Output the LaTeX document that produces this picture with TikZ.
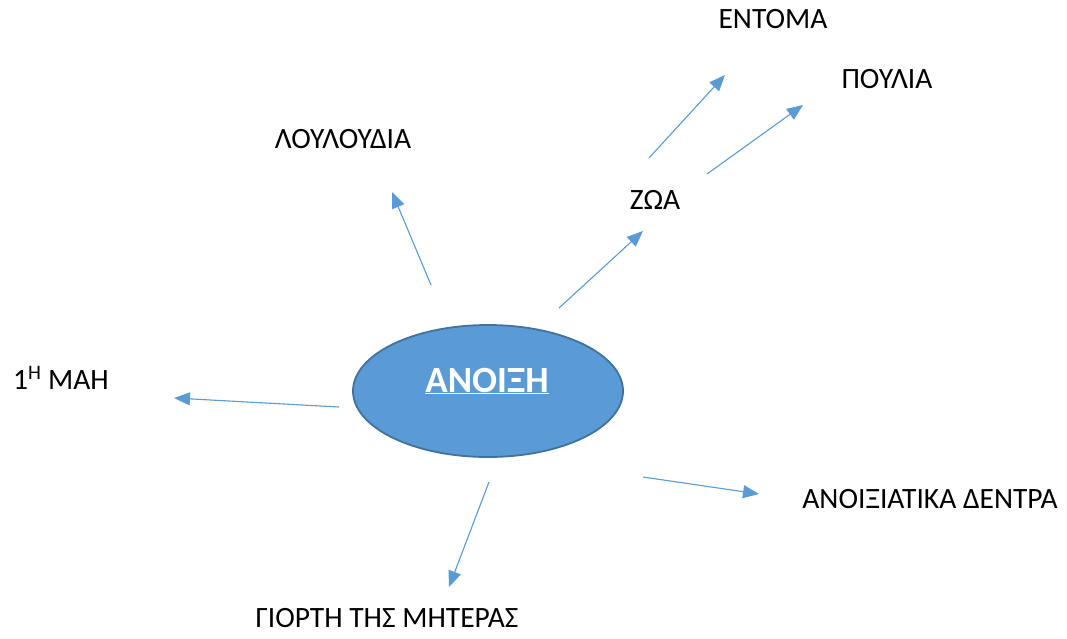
\documentclass[tikz,border=0pt]{standalone}
\usepackage{fontspec}
\setmainfont{Carlito}
\usetikzlibrary{arrows.meta,shapes.geometric}
\definecolor{accent}{HTML}{5B9BD5}
\definecolor{accentdark}{HTML}{41719C}
\begin{document}
\begin{tikzpicture}[x=1pt,y=-1pt,
  lbl/.style={inner sep=0pt,font=\fontsize{29.5}{34}\selectfont,text=black,anchor=base},
  conn/.style={draw=accent,line width=1.1pt,-{Triangle[length=16pt,width=13pt]},fill=accent}]
\useasboundingbox (0,0) rectangle (1067,638);
% central ellipse
\node[ellipse,draw=accentdark,line width=1.8pt,fill=accent,minimum width=270pt,minimum height=132pt,inner sep=0pt] (center) at (488,391) {};
\node[inner sep=0pt,anchor=base,text=white,font=\fontsize{37}{42}\selectfont\bfseries] (title) at (487,392) {\underline{ΑΝΟΙΞΗ}};
% labels
\node[lbl] (entoma) at (773,28) {ΕΝΤΟΜΑ};
\node[lbl] (poulia) at (887,88) {ΠΟΥΛΙΑ};
\node[lbl] (louloudia) at (343,148) {ΛΟΥΛΟΥΔΙΑ};
\node[lbl] (zoa) at (655,209) {ΖΩΑ};
\node[lbl,anchor=base west] (mai) at (13,389) {1\textsuperscript{Η} ΜΑΗ};
\node[lbl] (dentra) at (930,508) {ΑΝΟΙΞΙΑΤΙΚΑ ΔΕΝΤΡΑ};
\node[lbl] (giorti) at (387,627) {ΓΙΟΡΤΗ ΤΗΣ ΜΗΤΕΡΑΣ};
% connector endpoints
\coordinate (s1) at (431,285); \coordinate (e1) at (392,192);
\coordinate (s2) at (559,308); \coordinate (e2) at (643,231);
\coordinate (s3) at (649,158); \coordinate (e3) at (725,75);
\coordinate (s4) at (707,174); \coordinate (e4) at (803,105);
\coordinate (s5) at (339,407); \coordinate (e5) at (174,398);
\coordinate (s6) at (489,482); \coordinate (e6) at (449,587);
\coordinate (s7) at (643,477); \coordinate (e7) at (759,494);
\foreach \i in {1,...,7} {\draw[conn] (s\i) -- (e\i);}
\end{tikzpicture}
\end{document}
